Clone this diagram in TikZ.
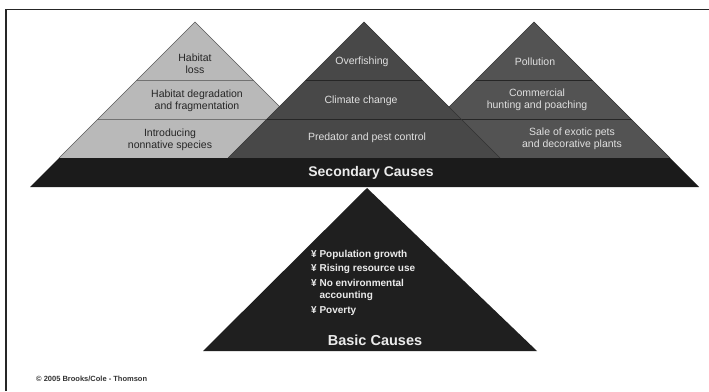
\documentclass[tikz,border=0pt]{standalone}
\usepackage{fontspec}
\setmainfont{Liberation Sans}
\definecolor{lightpyr}{HTML}{B9B9B9}
\definecolor{midpyr}{HTML}{484848}
\definecolor{rightpyr}{HTML}{535353}
\definecolor{bandc}{HTML}{1B1B1B}
\definecolor{basec}{HTML}{1F1F1F}
\begin{document}
\begin{tikzpicture}[x=1pt,y=-1pt,
  edge/.style={draw=black!80, line width=0.6pt},
  lyrline/.style={line width=0.6pt},
  lab/.style={font=\fontsize{10.5}{12.5}\selectfont, align=center, inner sep=0pt},
  labd/.style={lab, text=black!85},
  labl/.style={lab, text=white!88!black},
  bul/.style={font=\bfseries\fontsize{10}{12}\selectfont, text=white!92!black, inner sep=0pt, anchor=base west},
  big/.style={font=\bfseries\fontsize{14}{16}\selectfont, text=white!92!black, inner sep=0pt}
]
\useasboundingbox (0,0) rectangle (709,391);
\fill[white] (0,0) rectangle (709,391);
% frame
\coordinate (F1) at (6,391); \coordinate (F2) at (6,9.5); \coordinate (F3) at (709,9.5);
\draw[line width=1.5pt, black!85] (F1) -- (F2) -- (F3);

% pyramid corners
\coordinate (LA) at (195,22);  \coordinate (LL) at (59,158);  \coordinate (LR) at (331,158);
\coordinate (MA) at (364,22);  \coordinate (ML) at (228,158); \coordinate (MR) at (500,158);
\coordinate (RA) at (534,22);  \coordinate (RL) at (398,158); \coordinate (RR) at (670,158);
\coordinate (BL) at (30,187);  \coordinate (BR) at (699,187);
\coordinate (KA) at (367,188); \coordinate (KL) at (203,351); \coordinate (KR) at (537,351);

% left pyramid
\fill[lightpyr] (LA) -- (LR) -- (LL) -- cycle;
\begin{scope}
  \clip (LA) -- (LR) -- (LL) -- cycle;
  \draw[lyrline, black!55] (0,80) -- (709,80) (0,119) -- (709,119);
\end{scope}
\draw[edge, draw=black!65] (LL) -- (LA) -- (LR);

% right pyramid
\fill[rightpyr] (RA) -- (RR) -- (RL) -- cycle;
\begin{scope}
  \clip (RA) -- (RR) -- (RL) -- cycle;
  \draw[lyrline, black!85] (0,80) -- (709,80) (0,119) -- (709,119);
\end{scope}
\draw[edge] (RL) -- (RA) -- (RR);

% middle pyramid (on top)
\fill[midpyr] (MA) -- (MR) -- (ML) -- cycle;
\begin{scope}
  \clip (MA) -- (MR) -- (ML) -- cycle;
  \draw[lyrline, black!85] (0,80) -- (709,80) (0,119) -- (709,119);
\end{scope}
\draw[edge] (ML) -- (MA) -- (MR);

% secondary band
\fill[bandc] (LL) -- (RR) -- (BR) -- (BL) -- cycle;

% basic pyramid
\fill[basec] (KA) -- (KR) -- (KL) -- cycle;

% labels: left pyramid
\node[labd] (hl) at (195,63.5) {Habitat\\loss};
\node[labd] (hd) at (197,101) {Habitat degradation\\and fragmentation};
\node[labd] (in) at (170,140) {Introducing\\nonnative species};
% middle pyramid
\node[labl] (of) at (362,62) {Overfishing};
\node[labl] (cc) at (361,101) {Climate change};
\node[labl] (pp) at (367,138) {Predator and pest control};
% right pyramid
\node[labl] (po) at (535,62) {Pollution};
\node[labl] (ch) at (537,100) {Commercial\\hunting and poaching};
\node[labl] (se) at (572,139) {Sale of exotic pets\\and decorative plants};

\node[big] (sc) at (371,173) {Secondary Causes};

% basic causes
\node[bul] (b1) at (311,257) {¥ Population growth};
\node[bul] (b2) at (311,271) {¥ Rising resource use};
\node[bul] (b3) at (311,286) {¥ No environmental};
\node[bul] (b4) at (b3.base west) [yshift=-12pt] {\phantom{¥ }accounting};
\node[bul] (b5) at (311,313) {¥ Poverty};
\node[big, font=\bfseries\fontsize{14.5}{16}\selectfont] (bc) at (375,340) {Basic Causes};

% copyright
\node[font=\bfseries\fontsize{7.5}{8}\selectfont, text=black!80, inner sep=0pt, anchor=west] (cp) at (36,379) {© 2005 Brooks/Cole - Thomson};
\end{tikzpicture}
\end{document}
